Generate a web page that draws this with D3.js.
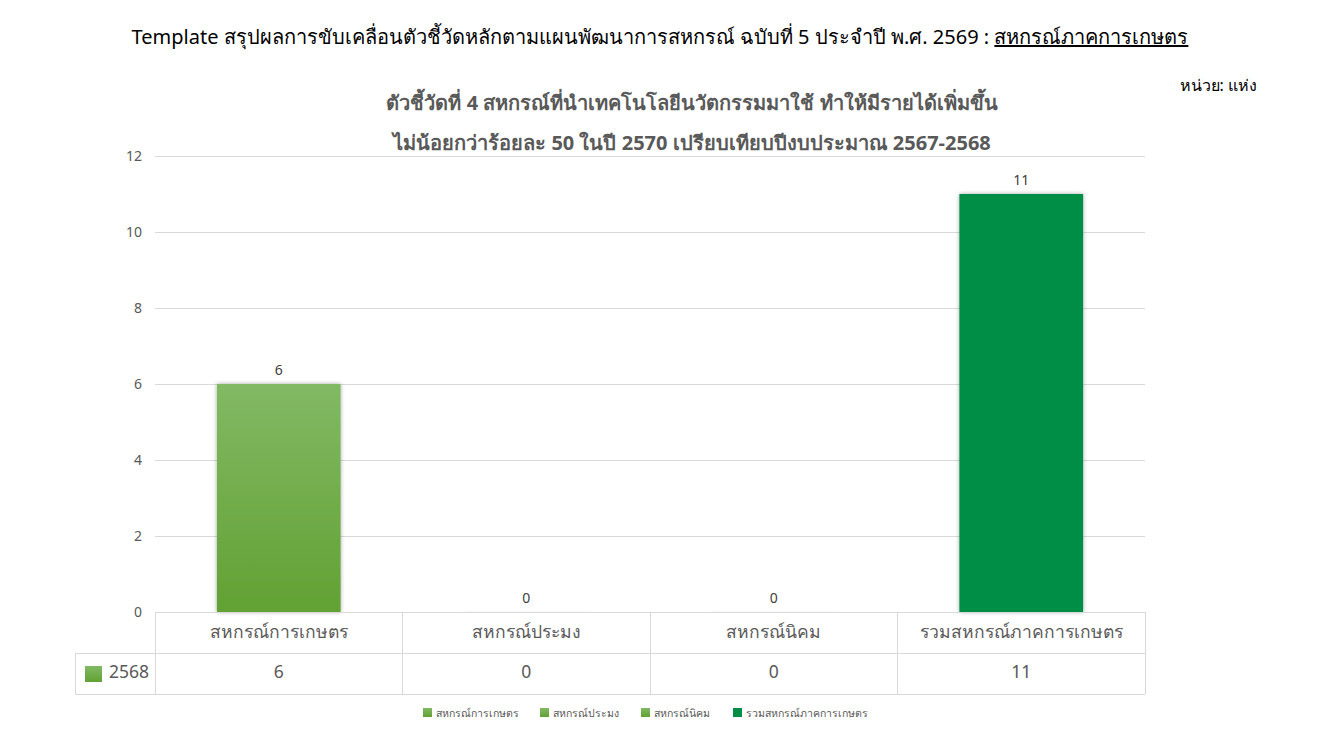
<!DOCTYPE html>
<html><head><meta charset="utf-8">
<script src="https://cdn.jsdelivr.net/npm/d3@7"></script>
<style>
body{margin:0;background:#fff;}
svg{font-family:"Noto Sans","Open Sans",sans-serif;}
</style></head>
<body><svg id="c" width="1329" height="747"></svg>
<script>
const categories = ["สหกรณ์การเกษตร","สหกรณ์ประมง","สหกรณ์นิคม","รวมสหกรณ์ภาคการเกษตร"];
const values2568 = [6, 0, 0, 11];
const seriesName = "2568";
const yTicks = [0, 2, 4, 6, 8, 10, 12];
const mainTitle = "Template สรุปผลการขับเคลื่อนตัวชี้วัดหลักตามแผนพัฒนาการสหกรณ์ ฉบับที่ 5 ประจำปี พ.ศ. 2569 : ";
const mainTitleU = "สหกรณ์ภาคการเกษตร";
const chartTitle = ["ตัวชี้วัดที่ 4 สหกรณ์ที่นำเทคโนโลยีนวัตกรรมมาใช้ ทำให้มีรายได้เพิ่มขึ้น","ไม่น้อยกว่าร้อยละ 50 ในปี 2570 เปรียบเทียบปีงบประมาณ 2567-2568"];
const unitLabel = "หน่วย: แห่ง";

(function(){
const svg = d3.select("#c");
const defs = svg.append("defs");
const g1 = defs.append("linearGradient").attr("id","gGreen").attr("x1",0).attr("y1",0).attr("x2",0).attr("y2",1);
g1.append("stop").attr("offset","0%").attr("stop-color","#82b964");
g1.append("stop").attr("offset","100%").attr("stop-color","#62a133");
const f = defs.append("filter").attr("id","sh").attr("x","-20%").attr("y","-20%").attr("width","140%").attr("height","140%");
f.append("feGaussianBlur").attr("in","SourceAlpha").attr("stdDeviation",2);
f.append("feOffset").attr("dx",0).attr("dy",0).attr("result","b");
f.append("feComponentTransfer").append("feFuncA").attr("type","linear").attr("slope",0.35);
const fm = f.append("feMerge"); fm.append("feMergeNode"); fm.append("feMergeNode").attr("in","SourceGraphic");

const pL = 155, pR = 1145, pT = 156, pB = 612;
const x = d3.scaleBand().domain(categories).range([pL,pR]).paddingInner(0.5).paddingOuter(0.25);
const xb = d3.scaleBand().domain(categories).range([pL,pR]);
const y = d3.scaleLinear().domain([0,12]).range([pB,pT]);

const t = svg.append("text").attr("x",660).attr("y",44).attr("text-anchor","middle").attr("font-size",20).attr("fill","#000");
t.append("tspan").text(mainTitle);
t.append("tspan").attr("text-decoration","underline").text(mainTitleU);

svg.append("text").attr("x",1257).attr("y",91).attr("text-anchor","end").attr("font-size",16).attr("fill","#000").text(unitLabel);

chartTitle.forEach((s,i)=>svg.append("text").attr("x",692).attr("y",110+i*40).attr("text-anchor","middle")
  .attr("font-size",20).attr("font-weight","bold").attr("fill","#595959").text(s));

svg.append("g").selectAll("line").data(yTicks).join("line")
  .attr("x1",pL).attr("x2",pR).attr("y1",d=>y(d)).attr("y2",d=>y(d))
  .attr("stroke","#d9d9d9").attr("stroke-width",1).attr("shape-rendering","crispEdges");

const ya = svg.append("g").attr("transform",`translate(${pL-13},0)`)
  .call(d3.axisLeft(y).tickValues(yTicks).tickSize(0).tickPadding(0));
ya.select(".domain").remove();
ya.selectAll("text").attr("font-size",14).attr("fill","#595959").attr("font-family","'Noto Sans',sans-serif");

const colors = ["url(#gGreen)","url(#gGreen)","url(#gGreen)","#008e47"];
svg.append("g").selectAll("rect").data(values2568).join("rect")
  .attr("x",(d,i)=>x(categories[i])).attr("width",x.bandwidth())
  .attr("y",d=>y(d)).attr("height",d=>Math.max(0.5,y(0)-y(d)))
  .attr("fill",(d,i)=>colors[i]).attr("filter","url(#sh)");

svg.append("g").selectAll("text").data(values2568).join("text")
  .attr("x",(d,i)=>x(categories[i])+x.bandwidth()/2).attr("y",d=>y(d)-9)
  .attr("text-anchor","middle").attr("font-size",14).attr("fill","#404040").text(d=>d);

const rowH = 41, r1 = pB, r2 = pB+rowH, r3 = pB+2*rowH, tabLeft = 75;
const tg = svg.append("g").attr("stroke","#d9d9d9").attr("shape-rendering","crispEdges");
tg.append("line").attr("x1",pL).attr("x2",pR).attr("y1",r1).attr("y2",r1);
tg.append("line").attr("x1",tabLeft).attr("x2",pR).attr("y1",r2).attr("y2",r2);
tg.append("line").attr("x1",tabLeft).attr("x2",pR).attr("y1",r3).attr("y2",r3);
tg.append("line").attr("x1",tabLeft).attr("x2",tabLeft).attr("y1",r2).attr("y2",r3);
tg.selectAll("line.v").data(categories.concat(["__end"])).join("line").attr("class","v")
  .attr("x1",(d,i)=>pL+i*xb.bandwidth()).attr("x2",(d,i)=>pL+i*xb.bandwidth())
  .attr("y1",r1).attr("y2",r3);
svg.append("g").selectAll("text").data(categories).join("text")
  .attr("x",d=>xb(d)+xb.bandwidth()/2).attr("y",r1+26).attr("text-anchor","middle")
  .attr("font-size",17.5).attr("fill","#595959").text(d=>d);
svg.append("g").selectAll("text").data(values2568).join("text")
  .attr("x",(d,i)=>xb(categories[i])+xb.bandwidth()/2).attr("y",r2+25).attr("text-anchor","middle")
  .attr("font-size",17.5).attr("fill","#595959").text(d=>d);
svg.append("rect").attr("x",85).attr("y",r2+13).attr("width",17).attr("height",16).attr("fill","url(#gGreen)");
svg.append("text").attr("x",109).attr("y",r2+25).attr("font-size",17.5).attr("fill","#595959").text(seriesName);

const legX = [423, 540, 641, 733];
const lg = svg.append("g").selectAll("g").data(categories).join("g")
  .attr("transform",(d,i)=>`translate(${legX[i]},708)`);
lg.append("rect").attr("width",9).attr("height",9).attr("fill",(d,i)=>colors[i]);
lg.append("text").attr("x",13).attr("y",9).attr("font-size",10.5).attr("fill","#595959").text(d=>d);
})();
</script></body></html>
